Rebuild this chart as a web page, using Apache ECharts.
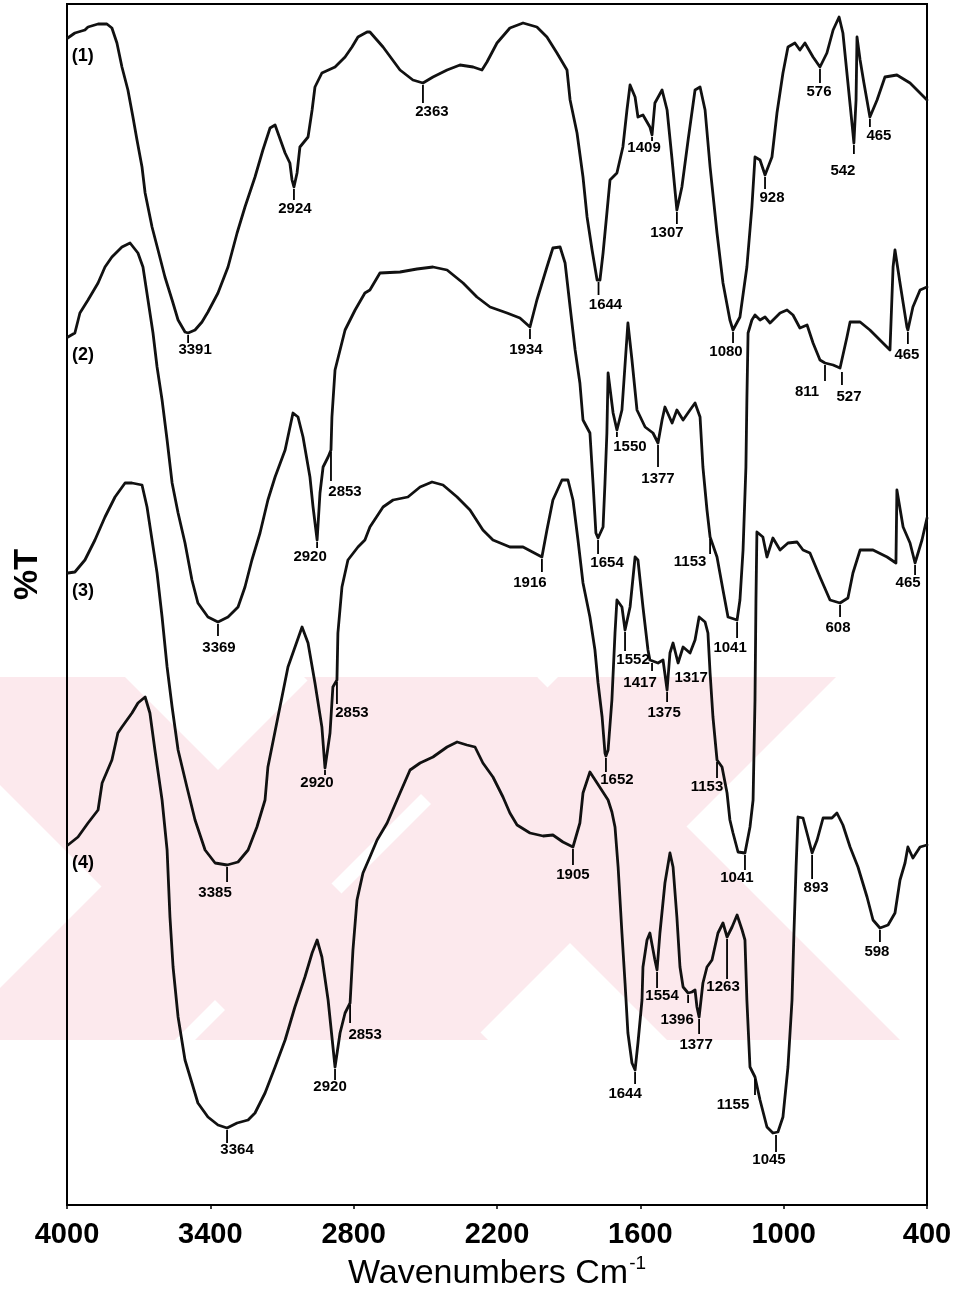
<!DOCTYPE html>
<html>
<head>
<meta charset="utf-8">
<title>FTIR spectra (1)-(4)</title>
<script src="https://cdn.jsdelivr.net/npm/echarts@6/dist/echarts.min.js"></script>
<style>
  html, body { margin: 0; padding: 0; background: #ffffff; }
  #chart { width: 969px; height: 1292px; }
</style>
</head>
<body>
<div id="chart"></div>
<script>
const FONT = '"Liberation Sans", Arial, Helvetica, sans-serif';

// Wavenumber axis ticks (cm-1)
const xTicks = [4000, 3400, 2800, 2200, 1600, 1000, 400];

// Spectra: [wavenumber, %T (stacked, arbitrary offset)]
const spectrum1 = [[3997,116.7],[3967,117.2],[3925,117.5],[3912,117.8],[3870,118.1],[3833,118.1],[3812,117.7],[3791,116.2],[3770,113.8],[3745,111.5],[3724,108.8],[3707,106.5],[3686,103.8],[3673,101.2],[3644,97.8],[3619,95.5],[3590,92.8],[3560,90.5],[3535,88.5],[3506,87.3],[3493,87.2],[3464,87.5],[3435,88.3],[3410,89.3],[3368,91.2],[3326,93.8],[3288,97.2],[3255,99.8],[3213,102.8],[3180,105.5],[3150,107.7],[3129,108.0],[3117,107.2],[3087,105.2],[3067,104.2],[3058,102.5],[3050,101.8],[3037,103.2],[3025,105.8],[2991,106.8],[2974,109.5],[2962,111.8],[2933,113.2],[2878,113.8],[2836,114.8],[2807,115.8],[2782,116.8],[2744,117.3],[2732,117.3],[2677,115.8],[2606,113.5],[2552,112.5],[2510,112.2],[2468,112.8],[2409,113.5],[2355,114.0],[2300,113.8],[2263,113.5],[2242,114.3],[2200,116.2],[2146,117.7],[2091,118.2],[2033,117.8],[1991,116.8],[1949,115.2],[1907,113.5],[1894,110.5],[1865,107.2],[1840,102.8],[1823,98.8],[1802,95.5],[1781,92.5],[1769,92.5],[1756,95.2],[1740,99.2],[1727,102.5],[1698,103.2],[1673,105.8],[1656,109.5],[1643,112.0],[1622,110.8],[1610,108.8],[1589,109.0],[1560,107.8],[1551,107.0],[1539,110.2],[1509,111.5],[1488,109.5],[1467,104.5],[1447,99.5],[1426,101.8],[1400,106.5],[1371,111.5],[1350,111.8],[1329,109.5],[1308,103.8],[1279,97.2],[1254,92.2],[1225,88.5],[1212,87.5],[1183,88.8],[1154,93.8],[1133,99.8],[1120,104.8],[1099,104.5],[1078,103.0],[1049,104.8],[1028,109.2],[1003,113.2],[982,115.8],[953,116.2],[932,115.5],[911,116.2],[877,114.8],[848,113.8],[819,115.2],[793,117.5],[768,118.8],[752,117.2],[731,112.2],[710,107.2],[706,106.2],[697,110.5],[693,116.8],[680,114.5],[664,112.2],[639,108.8],[609,110.5],[576,112.8],[526,113.0],[471,112.2],[400,110.5]];

const spectrum2 = [[3996,86.8],[3967,87.2],[3946,89.2],[3912,90.5],[3870,92.2],[3841,93.8],[3812,94.8],[3770,95.8],[3736,96.2],[3703,95.2],[3682,93.8],[3661,90.5],[3640,87.2],[3623,83.8],[3602,80.5],[3581,76.5],[3560,72.2],[3535,69.2],[3506,66.2],[3477,62.5],[3452,60.2],[3410,58.8],[3368,58.3],[3326,58.8],[3284,59.8],[3255,61.8],[3226,64.5],[3192,67.2],[3159,70.5],[3129,72.8],[3087,75.5],[3054,79.2],[3033,78.8],[3012,76.8],[2983,72.8],[2970,69.8],[2953,66.5],[2941,71.2],[2928,73.8],[2907,74.8],[2895,75.5],[2891,78.8],[2878,83.5],[2836,87.5],[2794,89.5],[2753,91.2],[2732,91.5],[2690,93.2],[2606,93.3],[2535,93.6],[2468,93.8],[2409,93.5],[2342,92.2],[2284,90.8],[2229,89.8],[2158,89.2],[2104,88.7],[2062,87.8],[2033,90.5],[1991,93.8],[1966,95.7],[1936,95.8],[1915,94.2],[1894,89.8],[1873,85.5],[1853,82.2],[1840,78.5],[1811,77.2],[1798,72.2],[1786,67.2],[1777,66.7],[1756,67.8],[1748,72.2],[1740,77.2],[1735,83.2],[1714,79.2],[1698,77.5],[1677,79.5],[1652,88.2],[1635,84.5],[1614,79.5],[1580,77.8],[1547,77.2],[1526,76.2],[1509,78.5],[1497,79.8],[1467,78.2],[1447,79.5],[1421,78.5],[1392,79.5],[1371,80.2],[1350,78.8],[1338,73.8],[1321,69.5],[1308,66.8],[1279,64.8],[1254,61.5],[1233,58.8],[1195,58.5],[1183,60.5],[1170,65.5],[1158,73.8],[1154,80.5],[1149,87.2],[1133,88.5],[1120,89.0],[1099,88.5],[1078,88.8],[1057,88.2],[1036,88.7],[1015,89.2],[986,89.5],[961,89.0],[932,87.7],[902,88.0],[877,86.2],[848,84.5],[827,84.2],[793,84.0],[764,83.7],[756,83.5],[735,86.8],[722,88.3],[680,88.3],[639,87.5],[597,86.5],[555,85.5],[542,93.8],[534,95.5],[513,92.2],[484,87.8],[480,87.5],[459,89.8],[429,91.5],[400,91.8]];

const spectrum3 = [[3996,63.2],[3967,63.3],[3925,64.5],[3883,66.5],[3841,68.8],[3799,70.8],[3757,72.2],[3728,72.2],[3686,72.0],[3665,69.8],[3644,66.5],[3623,63.2],[3602,58.8],[3581,53.8],[3560,49.8],[3535,45.5],[3498,41.8],[3464,38.5],[3422,35.5],[3380,34.2],[3330,34.0],[3284,34.3],[3242,35.5],[3205,37.8],[3171,40.5],[3159,43.8],[3117,48.8],[3075,53.8],[3016,57.8],[2991,56.2],[2962,52.2],[2933,47.8],[2920,43.7],[2899,47.2],[2887,51.8],[2870,52.5],[2866,57.2],[2849,61.8],[2824,64.5],[2782,65.8],[2753,66.5],[2732,67.8],[2677,69.8],[2635,70.5],[2573,70.8],[2522,71.8],[2472,72.3],[2426,72.0],[2367,70.8],[2313,69.5],[2259,67.5],[2217,66.5],[2146,65.8],[2091,65.8],[2012,64.8],[1991,67.5],[1966,70.5],[1928,72.5],[1903,72.5],[1882,70.5],[1861,66.5],[1840,62.2],[1811,58.8],[1790,55.5],[1777,52.2],[1760,48.8],[1748,45.2],[1744,44.9],[1735,45.5],[1719,50.5],[1706,57.2],[1698,60.5],[1677,59.8],[1664,57.5],[1643,59.8],[1622,64.8],[1610,64.5],[1589,59.8],[1568,55.5],[1560,54.5],[1526,54.2],[1505,54.5],[1488,51.5],[1476,55.2],[1463,56.2],[1442,54.2],[1421,55.8],[1392,55.2],[1371,56.5],[1354,58.8],[1329,58.3],[1317,57.2],[1308,53.2],[1296,48.8],[1279,44.5],[1258,43.8],[1237,41.2],[1225,38.5],[1212,37.2],[1191,35.3],[1162,35.2],[1141,37.8],[1128,40.5],[1120,50.5],[1116,60.5],[1112,67.3],[1087,66.8],[1070,64.8],[1045,66.7],[1015,65.5],[982,66.2],[944,66.3],[919,65.5],[890,65.2],[848,62.8],[806,60.5],[764,60.2],[731,60.7],[710,63.2],[680,65.5],[626,65.5],[567,64.8],[530,64.2],[526,71.5],[500,67.8],[471,66.2],[450,64.2],[421,66.5],[400,68.7]];

const spectrum4 = [[3996,36.0],[3954,36.8],[3912,38.2],[3870,39.5],[3853,42.2],[3812,44.5],[3787,47.2],[3770,47.8],[3728,49.2],[3703,50.2],[3673,50.8],[3653,49.2],[3632,45.5],[3602,40.5],[3581,35.5],[3569,28.8],[3556,23.8],[3535,18.8],[3506,14.5],[3477,12.2],[3452,10.2],[3410,8.8],[3368,8.0],[3330,7.7],[3288,8.2],[3242,8.5],[3213,9.2],[3171,11.2],[3129,13.8],[3087,16.5],[3046,19.8],[3004,22.8],[2974,25.2],[2953,26.5],[2933,24.8],[2907,20.5],[2878,13.8],[2857,17.2],[2836,19.2],[2815,20.2],[2803,25.5],[2786,30.5],[2761,33.2],[2732,34.8],[2702,36.5],[2660,38.2],[2606,41.2],[2564,43.5],[2522,44.2],[2468,44.8],[2409,45.8],[2367,46.3],[2326,46.0],[2292,45.8],[2259,44.2],[2217,42.8],[2175,40.8],[2146,39.2],[2116,38.0],[2062,37.2],[2007,36.9],[1966,37.0],[1924,36.3],[1882,35.8],[1853,38.2],[1840,41.2],[1811,43.3],[1781,42.2],[1735,40.5],[1719,39.3],[1706,37.8],[1693,33.8],[1677,27.2],[1664,22.2],[1652,17.2],[1635,14.2],[1622,13.5],[1610,16.2],[1593,20.5],[1589,23.8],[1572,26.5],[1560,27.2],[1539,24.5],[1530,23.5],[1518,27.2],[1497,32.2],[1476,35.2],[1463,33.8],[1447,28.8],[1434,23.8],[1421,21.8],[1400,21.2],[1384,21.3],[1371,21.5],[1363,19.8],[1354,18.8],[1338,22.2],[1321,23.8],[1300,24.5],[1275,27.2],[1254,28.2],[1237,26.8],[1216,27.8],[1195,29.0],[1174,27.5],[1162,26.5],[1154,20.5],[1141,13.8],[1120,12.8],[1099,10.5],[1070,7.8],[1045,7.2],[1024,7.3],[1003,8.8],[982,13.8],[965,20.5],[957,27.2],[948,33.8],[940,38.8],[919,38.7],[898,36.8],[881,35.2],[860,36.5],[835,38.7],[798,38.7],[777,39.2],[752,38.0],[722,35.8],[689,33.8],[651,30.8],[626,28.5],[597,27.7],[563,28.0],[534,29.2],[513,32.5],[492,34.2],[480,35.8],[459,34.7],[429,35.8],[400,36.0]];

// Band annotations: [label, wavenumber of marked point, %T of marked point]
const peaks1 = [['3391',3493,87.2],['2924',3050,101.8],['2363',2510,112.2],['1644',1775,92.5],['1409',1551,107.0],['1307',1447,99.5],['1080',1212,87.5],['928',1078,103.0],['576',848,113.8],['542',706,106.2],['465',639,108.8]];
const peaks2 = [['3369',3368,58.3],['2920',2953,66.5],['2853',2895,75.5],['1934',2062,87.8],['1654',1777,66.7],['1550',1698,77.5],['1377',1526,76.2],['1153',1308,66.8],['1041',1195,58.5],['811',827,84.2],['527',756,83.5],['465',480,87.5]];
const peaks3 = [['3385',3330,34.0],['2920',2920,43.7],['2853',2870,52.5],['1916',2012,64.8],['1652',1744,44.9],['1552',1664,57.5],['1417',1551,54.4],['1375',1488,51.5],['1317',1442,54.2],['1153',1279,44.5],['1041',1162,35.2],['608',764,60.2],['465',450,64.2]];
const peaks4 = [['3364',3330,7.7],['2920',2878,13.8],['2853',2815,20.2],['1905',1882,35.8],['1644',1622,13.5],['1554',1530,23.5],['1396',1400,21.2],['1377',1354,18.8],['1263',1237,26.8],['1155',1120,12.8],['1045',1032,7.2],['893',881,35.2],['598',597,27.7]];

const curveTags = ['(1)', '(2)', '(3)', '(4)'];

// Annotation placement, in screen px relative to the marked point: [text dx, text dy, tick length]
const layout1 = [[7,17,8],[1,22,11],[9,29,18],[7,25,13],[-8,13,4],[-10,23,12],[-7,22,11],[7,23,12],[-1,25,14],[-11,28,9],[9,19,8]];
const layout2 = [[1,26,12],[-7,17,6],[14,42,29],[-4,23,10],[9,25,14],[13,17,5],[0,36,22],[-20,25,15],[-7,28,16],[-18,29,16],[7,27,13],[-1,25,12]];
const layout3 = [[-12,28,15],[-8,15,5],[15,33,22],[-12,26,13],[11,24,14],[8,30,19],[-12,22,8],[-3,23,10],[13,15,0],[-10,27,16],[-8,25,15],[-2,25,12],[-7,20,10]];
const layout4 = [[10,22,13],[-5,20,11],[15,32,18],[0,28,16],[-10,24,12],[5,26,16],[-11,27,8],[-3,28,15],[-4,50,40],[-22,28,16],[-7,27,17],[4,35,24],[-3,24,12]];

const spectra = [spectrum1, spectrum2, spectrum3, spectrum4];
const peakSets = [peaks1, peaks2, peaks3, peaks4];
const layouts = [layout1, layout2, layout3, layout4];

// Faint pink background stamp: two crossed pairs of 45° bars in a band (page px)
const STAMP_PINK = '#fce9ed';
const stampBars = [
  [[311,677],[538,677],[175,1040],[-52,1040]],
  [[-108,677],[125,677],[488,1040],[255,1040]],
  [[558,677],[836,677],[473,1040],[195,1040]],
  [[304,677],[537,677],[900,1040],[667,1040]]
];

function spectrumSeries(data, i) {
  return {
    name: curveTags[i],
    type: 'line',
    data: data,
    symbol: 'none',
    smooth: false,
    silent: true,
    z: 3,
    lineStyle: { color: '#111', width: 2.8, join: 'round', cap: 'round' }
  };
}

function peakSeries(peaks, layout) {
  return {
    type: 'custom',
    silent: true,
    z: 5,
    data: peaks.map(p => [p[1], p[2]]),
    encode: { x: 0, y: 1 },
    renderItem: function (params, api) {
      const i = params.dataIndex;
      const pt = api.coord([api.value(0), api.value(1)]);
      const dx = layout[i][0], dy = layout[i][1], tick = layout[i][2];
      const children = [];
      if (tick > 0) {
        children.push({
          type: 'line',
          shape: { x1: pt[0], y1: pt[1] + 2, x2: pt[0], y2: pt[1] + 2 + tick },
          style: { stroke: '#000', lineWidth: 1.8 }
        });
      }
      children.push({
        type: 'text',
        style: {
          text: peaks[i][0], x: pt[0] + dx, y: pt[1] + dy,
          align: 'center', verticalAlign: 'middle',
          fontFamily: FONT, fontSize: 15, fontWeight: 'bold', fill: '#000'
        }
      });
      return { type: 'group', children: children };
    }
  };
}

// Curve numbers written just right of and below each spectrum's starting point
const tagSeries = {
  type: 'custom',
  silent: true,
  z: 5,
  data: spectra.map(s => [s[0][0], s[0][1]]),
  encode: { x: 0, y: 1 },
  renderItem: function (params, api) {
    const pt = api.coord([api.value(0), api.value(1)]);
    return {
      type: 'text',
      style: {
        text: curveTags[params.dataIndex], x: pt[0] + 15, y: pt[1] + 18,
        align: 'center', verticalAlign: 'middle',
        fontFamily: FONT, fontSize: 18, fontWeight: 'bold', fill: '#000'
      }
    };
  }
};

const chart = echarts.init(document.getElementById('chart'), null, { renderer: 'canvas' });

chart.setOption({
  animation: false,
  backgroundColor: '#ffffff',
  graphic: stampBars.map(points => ({
    type: 'polygon',
    silent: true,
    z: -10,
    shape: { points: points },
    style: { fill: STAMP_PINK, stroke: null }
  })),
  grid: {
    left: 67, right: 42, top: 4, bottom: 87,
    containLabel: false,
    outerBoundsMode: 'none',
    show: true, borderColor: '#000', borderWidth: 2
  },
  xAxis: {
    type: 'value',
    min: 400, max: 4000,
    inverse: true,
    name: 'Wavenumbers Cm{sup|-1}',
    nameLocation: 'middle',
    nameGap: 47,
    nameTextStyle: {
      fontFamily: FONT, fontSize: 34, color: '#000', lineHeight: 40,
      rich: { sup: { fontFamily: FONT, fontSize: 19, color: '#000', verticalAlign: 'top', lineHeight: 40, padding: [0, 0, 18, 1] } }
    },
    axisLine: { show: true, lineStyle: { color: '#000', width: 2 } },
    axisTick: { show: true, customValues: xTicks, length: 4, lineStyle: { color: '#000', width: 1.5 } },
    axisLabel: {
      customValues: xTicks, margin: 15,
      formatter: v => String(v),
      fontFamily: FONT, fontSize: 29, fontWeight: 'bold', color: '#000'
    },
    splitLine: { show: false }
  },
  yAxis: {
    type: 'value',
    min: 0, max: 120.1,
    name: '%T',
    nameLocation: 'middle',
    nameRotate: 90,
    nameGap: 22,
    nameTextStyle: { fontFamily: FONT, fontSize: 34, fontWeight: 'bold', color: '#000', padding: [0, 0, 0, 60] },
    axisLine: { show: true, lineStyle: { color: '#000', width: 2 } },
    axisTick: { show: false },
    axisLabel: { show: false },
    splitLine: { show: false }
  },
  series: spectra.map(spectrumSeries)
    .concat(peakSets.map((p, i) => peakSeries(p, layouts[i])))
    .concat([tagSeries])
});
</script>
</body>
</html>
